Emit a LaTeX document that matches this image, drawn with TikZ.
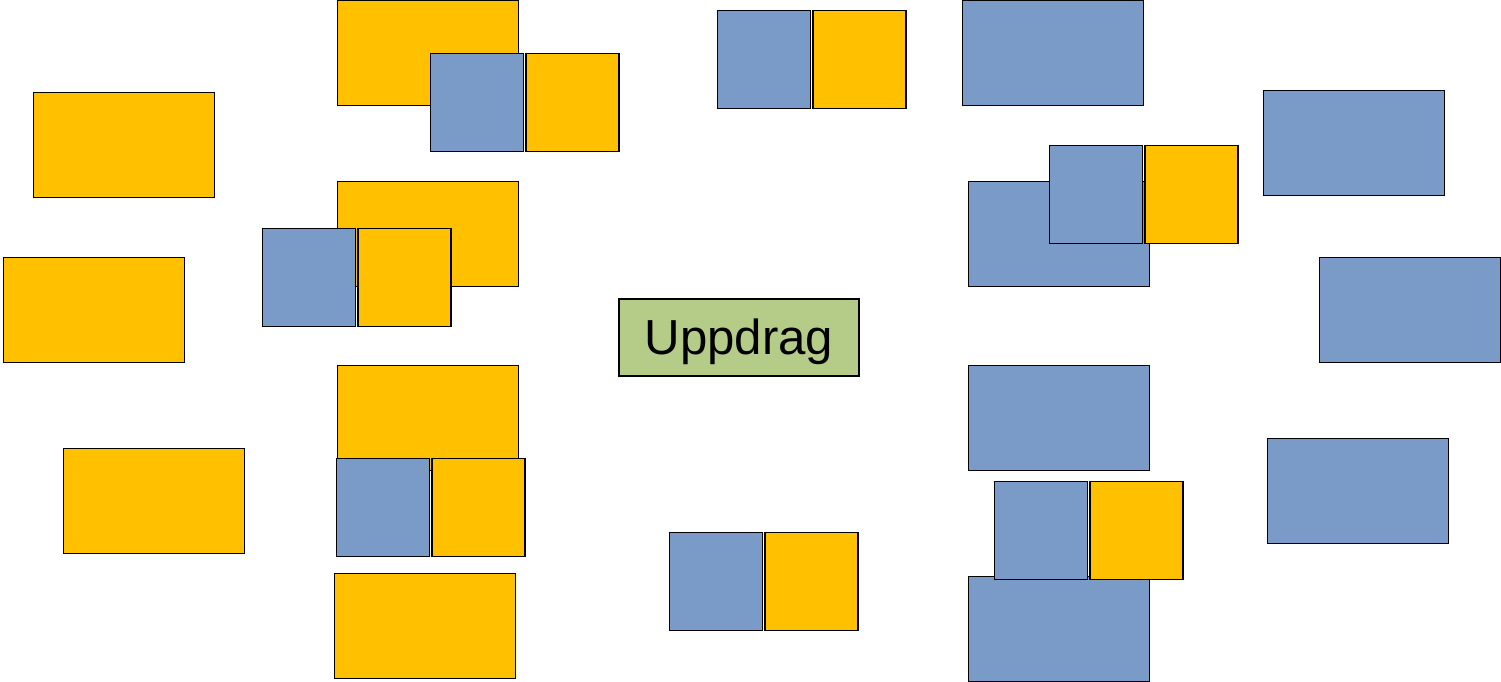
\documentclass[tikz,border=0pt]{standalone}
\usepackage{fontspec}
\setmainfont{Liberation Sans}
\definecolor{gul}{HTML}{FFC000}
\definecolor{bla}{HTML}{7A9AC7}
\definecolor{gron}{HTML}{B5CB88}

\begin{document}
\begin{tikzpicture}[x=0.02cm, y=-0.02cm]
    % Define style for the boxes and squares
    \tikzstyle{stor} = [rectangle, anchor=north west, inner sep=0pt, minimum width=3.62cm, minimum height=2.1cm, draw=black, line width=0.8pt]
    \tikzstyle{ruta} = [rectangle, anchor=north west, inner sep=0pt, minimum width=1.86cm, minimum height=1.96cm, draw=black, line width=0.8pt]
    \tikzstyle{mitt} = [rectangle, inner sep=0pt, minimum width=4.8cm, minimum height=1.54cm, text height=0.78cm, text depth=0.1cm, draw=black, line width=0.8pt, fill=gron, font=\fontsize{28}{31}\selectfont]

    \useasboundingbox (0,0) rectangle (1501,681);

    % Yellow boxes
    \foreach \x/\y [count=\i] in {33/92, 3/257, 63/448, 337/0, 337/181, 337/365, 334/573} {
        \node[stor, fill=gul] (gul\i) at (\x,\y) {};
    }

    % Blue boxes
    \foreach \x/\y [count=\i] in {962/0, 968/181, 968/365, 968/576, 1263/90, 1319/257, 1267/438} {
        \node[stor, fill=bla] (bla\i) at (\x,\y) {};
    }

    % Pairs of squares
    \foreach \x/\y [count=\i] in {430/53, 262/228, 336/458, 717/10, 669/532, 1049/145, 994/481} {
        \node[ruta, fill=bla] (par\i a) at (\x,\y) {};
        \node[ruta, fill=gul, anchor=north west] (par\i b) at ([xshift=0.02cm]par\i a.north east) {};
    }

    % Center box
    \node[mitt] (uppdrag) at (739,337.5) {Uppdrag};
\end{tikzpicture}
\end{document}
